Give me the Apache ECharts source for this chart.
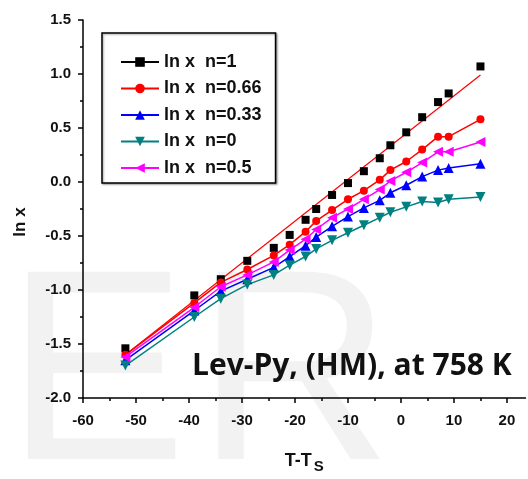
<!DOCTYPE html>
<html>
<head>
<meta charset="utf-8">
<script src="https://cdn.jsdelivr.net/npm/echarts@6/dist/echarts.min.js"></script>
<style>
  html, body { margin: 0; padding: 0; background: #fff; }
  #chart { width: 528px; height: 479px; }
</style>
</head>
<body>
<div id="chart"></div>
<script>
// Temperature offset T - Ts for every measured point
const tMinusTs = [-52, -39, -34, -29, -24, -21, -18, -16, -13, -10, -7, -4, -2, 1, 4, 7, 9, 15];

// ln x for each exponent n
const lnxN1   = [-1.54, -1.05, -0.90, -0.73, -0.61, -0.49, -0.35, -0.25, -0.12, -0.01, 0.10, 0.22, 0.34, 0.46, 0.60, 0.74, 0.82, 1.07];
const lnxN066 = [-1.60, -1.12, -0.93, -0.81, -0.68, -0.58, -0.46, -0.36, -0.26, -0.16, -0.08, 0.02, 0.11, 0.19, 0.30, 0.42, 0.42, 0.58];
const lnxN033 = [-1.65, -1.19, -1.01, -0.90, -0.79, -0.69, -0.59, -0.51, -0.41, -0.32, -0.24, -0.17, -0.10, -0.03, 0.05, 0.11, 0.13, 0.17];
const lnxN0   = [-1.70, -1.25, -1.08, -0.95, -0.86, -0.77, -0.69, -0.62, -0.54, -0.47, -0.40, -0.33, -0.28, -0.23, -0.18, -0.19, -0.16, -0.14];
const lnxN05  = [-1.62, -1.16, -0.97, -0.86, -0.74, -0.63, -0.53, -0.44, -0.33, -0.25, -0.16, -0.07, 0.01, 0.09, 0.18, 0.28, 0.28, 0.37];

// Straight fit through the n = 1 points (end points)
const fitX = [-52, 15];
const fitY = [-1.60, 0.99];

// Axis ticks
const xMajorTicks = [-60, -50, -40, -30, -20, -10, 0, 10, 20];
const xMinorTicks = [-55, -45, -35, -25, -15, -5, 5, 15];

const seriesNames = ['ln x  n=1', 'ln x  n=0.66', 'ln x  n=0.33', 'ln x  n=0', 'ln x  n=0.5'];

const pairs = (xs, ys) => xs.map((x, i) => [x, ys[i]]);

const FONT = '"Liberation Sans", Arial, sans-serif';

const chart = echarts.init(document.getElementById('chart'), null, { renderer: 'canvas' });

chart.setOption({
  animation: false,
  backgroundColor: '#fff',
  grid: { left: 83, right: 2.5, top: 20, bottom: 77, containLabel: false },
  xAxis: [
    {
      type: 'value', min: -60, max: 23.5,
      axisLine: { onZero: false, lineStyle: { color: '#000', width: 1.5 } },
      axisTick: { customValues: xMajorTicks, length: 5, lineStyle: { color: '#000', width: 1.5 } },
      axisLabel: {
        customValues: xMajorTicks, margin: 15,
        color: '#111', fontFamily: FONT, fontWeight: 'bold', fontSize: 15
      },
      splitLine: { show: false },
      name: 'T-T{s|S}', nameLocation: 'middle', nameGap: 51,
      nameTextStyle: {
        color: '#111', fontFamily: FONT, fontWeight: 'bold', fontSize: 18,
        rich: { s: { fontFamily: FONT, fontWeight: 'bold', fontSize: 15, padding: [10, 0, 0, 2], color: '#111' } }
      }
    },
    {
      type: 'value', min: -60, max: 23.5, position: 'bottom',
      axisLine: { show: false, onZero: false },
      axisTick: { customValues: xMinorTicks, length: 3, lineStyle: { color: '#000', width: 1.5 } },
      axisLabel: { show: false },
      splitLine: { show: false }
    }
  ],
  yAxis: {
    type: 'value', min: -2, max: 1.5, interval: 0.5,
    axisLine: { show: true, onZero: false, lineStyle: { color: '#000', width: 1.5 } },
    axisTick: { show: true, length: 5, lineStyle: { color: '#000', width: 1.5 } },
    minorTick: { show: true, splitNumber: 2, length: 3, lineStyle: { color: '#000', width: 1.5 } },
    axisLabel: {
      margin: 12, formatter: v => v.toFixed(1),
      color: '#111', fontFamily: FONT, fontWeight: 'bold', fontSize: 15
    },
    splitLine: { show: false }
  },
  legend: {
    orient: 'vertical', left: 102, top: 33,
    padding: [20, 14, 6, 18],
    itemWidth: 38, itemHeight: 12, itemGap: 8.5,
    borderColor: '#000', borderWidth: 1.5, backgroundColor: '#fff',
    shadowColor: 'rgba(0,0,0,0.35)', shadowBlur: 2, shadowOffsetX: 1, shadowOffsetY: 1,
    textStyle: { color: '#111', fontFamily: FONT, fontWeight: 'bold', fontSize: 18 },
    data: [
      { name: seriesNames[0], lineStyle: { color: '#000', width: 2, opacity: 1 } },
      { name: seriesNames[1] },
      { name: seriesNames[2] },
      { name: seriesNames[3] },
      { name: seriesNames[4] }
    ]
  },
  graphic: [
    // faint "ER" watermark behind the plot
    { type: 'text', z: -10, silent: true,
      style: { text: 'E', x: 5.5, y: 384, font: '272px "Liberation Sans", Arial, sans-serif', fill: '#f2f2f2', verticalAlign: 'middle' } },
    { type: 'text', z: -10, silent: true,
      style: { text: 'R', x: 196, y: 384, font: '272px "Liberation Sans", Arial, sans-serif', fill: '#f2f2f2', verticalAlign: 'middle' } },
    // y-axis title
    { type: 'text', z: 50, rotation: Math.PI / 2, x: 20, y: 222,
      style: { text: 'ln x', font: 'bold 17px "Liberation Sans", Arial, sans-serif', fill: '#111', align: 'center', verticalAlign: 'middle' } },
    // annotation
    { type: 'text', z: 50, x: 192, y: 366,
      style: { text: 'Lev-Py, (HM), at 758 K', font: 'bold 30px "Open Sans", Lato, sans-serif', fill: '#111', verticalAlign: 'middle' } }
  ],
  series: [
    {
      name: 'fit', type: 'line', data: pairs(fitX, fitY), z: 1,
      symbol: 'none', lineStyle: { color: '#ff0000', width: 1.2 }, silent: true
    },
    {
      name: seriesNames[0], type: 'line', data: pairs(tMinusTs, lnxN1), z: 3,
      symbol: 'rect', symbolSize: 8, itemStyle: { color: '#000' },
      lineStyle: { color: '#000', width: 2, opacity: 0 }
    },
    {
      name: seriesNames[1], type: 'line', data: pairs(tMinusTs, lnxN066), z: 3,
      symbol: 'circle', symbolSize: 8, itemStyle: { color: '#ff0000' },
      lineStyle: { color: '#ff0000', width: 1.5 }
    },
    {
      name: seriesNames[2], type: 'line', data: pairs(tMinusTs, lnxN033), z: 3,
      symbol: 'triangle', symbolSize: 10, itemStyle: { color: '#0000ff' },
      lineStyle: { color: '#0000ff', width: 1.5 }
    },
    {
      name: seriesNames[3], type: 'line', data: pairs(tMinusTs, lnxN0), z: 3,
      symbol: 'triangle', symbolRotate: 180, symbolSize: 10, itemStyle: { color: '#008080' },
      lineStyle: { color: '#008080', width: 1.5 }
    },
    {
      name: seriesNames[4], type: 'line', data: pairs(tMinusTs, lnxN05), z: 3,
      symbol: 'triangle', symbolRotate: 90, symbolSize: 10, itemStyle: { color: '#ff00ff' },
      lineStyle: { color: '#ff00ff', width: 1.5 }
    }
  ]
});
</script>
</body>
</html>
